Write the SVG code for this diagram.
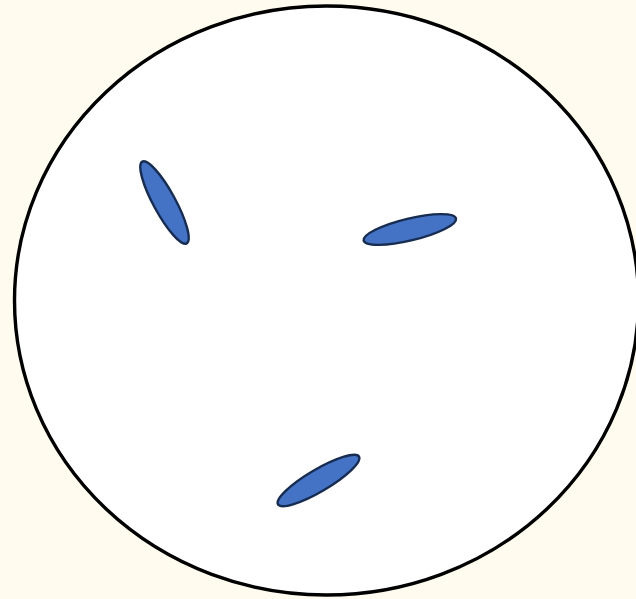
<svg xmlns="http://www.w3.org/2000/svg" width="636" height="599" viewBox="0 0 636 599">
<style>
.cell{fill:#4472C4;stroke:#172C51;stroke-width:2.4}
</style>
<rect width="636" height="599" fill="#FFFCEF"/>
<g id="dish"><ellipse cx="326.5" cy="300.5" rx="312" ry="294.5" fill="#FFFFFF" stroke="#000" stroke-width="3.4"/></g>
<g id="cell1"><ellipse class="cell" cx="0" cy="0" rx="46.5" ry="11" transform="translate(164.5 202.5) rotate(61.5)"/></g>
<g id="cell2"><ellipse class="cell" cx="0" cy="0" rx="47.5" ry="11" transform="translate(409.8 229.5) rotate(-13.5)"/></g>
<g id="cell3"><ellipse class="cell" cx="0" cy="0" rx="47" ry="11" transform="translate(318.5 480.5) rotate(-30.5)"/></g>
</svg>
